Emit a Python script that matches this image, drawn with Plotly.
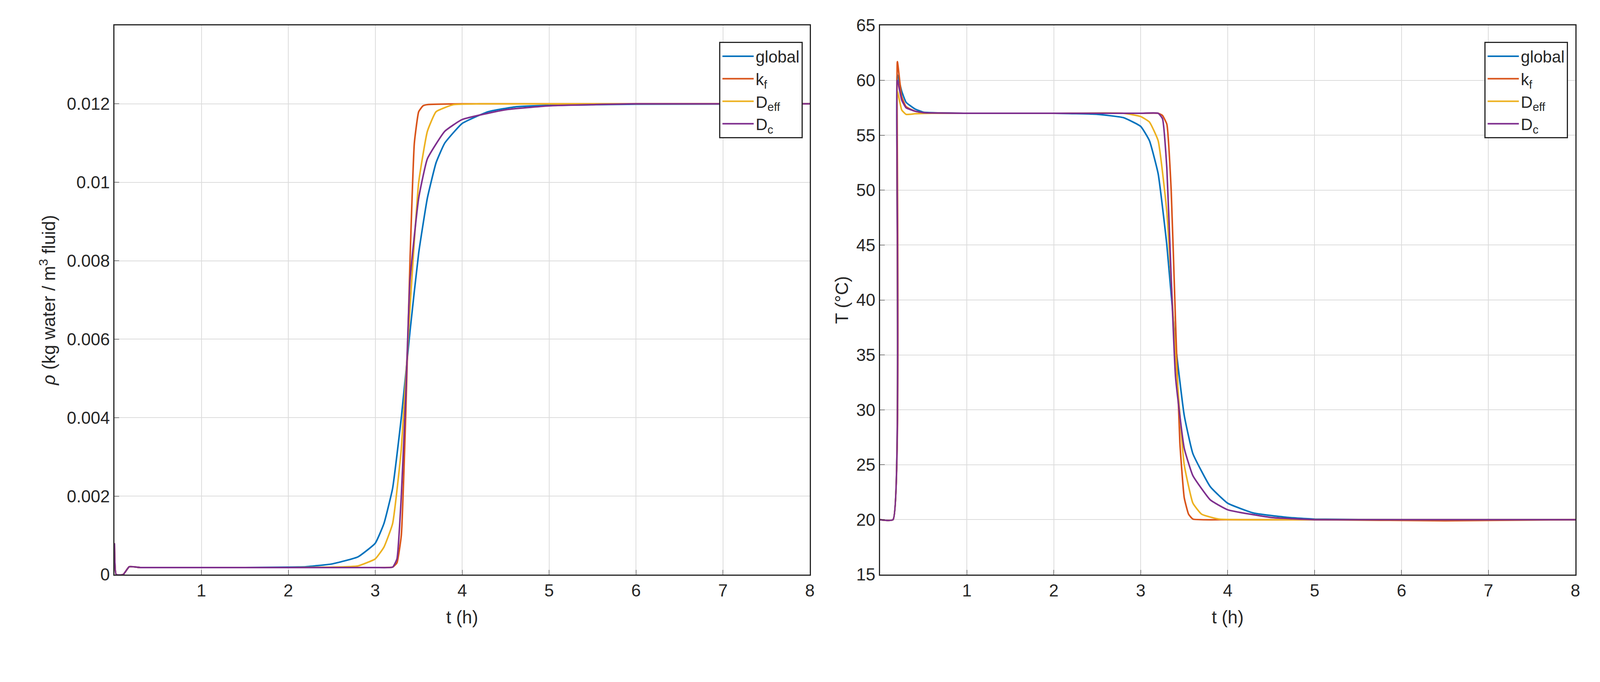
import plotly.graph_objects as go
from plotly.subplots import make_subplots

# density panel
t_rho_global = [0, 0.02, 0.1, 0.17, 0.3, 1.0, 1.5, 2.0, 2.2, 2.5, 2.8, 3.0, 3.1, 3.2, 3.3, 3.4, 3.5, 3.6, 3.7, 3.8, 4.0, 4.3, 4.6, 5.0, 6.0, 8.0]
rho_global = [0.0008, 0.0, 0.0, 0.0002, 0.00018, 0.00018, 0.00018, 0.00019, 0.0002, 0.00027, 0.00045, 0.0008, 0.0013, 0.0022, 0.0040, 0.0062, 0.0082, 0.0096, 0.0105, 0.0110, 0.0115, 0.0118, 0.01192, 0.01196, 0.01199, 0.0120]
t_rho_kf = [0, 0.02, 0.1, 0.17, 0.3, 1.0, 2.0, 3.0, 3.2, 3.25, 3.3, 3.35, 3.4, 3.45, 3.5, 3.55, 3.6, 4.0, 5.0, 8.0]
rho_kf = [0.0008, 0.0, 0.0, 0.0002, 0.00018, 0.00018, 0.00018, 0.00018, 0.00019, 0.0003, 0.001, 0.004, 0.008, 0.011, 0.0118, 0.01195, 0.01198, 0.0120, 0.0120, 0.0120]
t_rho_deff = [0, 0.02, 0.1, 0.17, 0.3, 1.0, 2.0, 2.5, 2.8, 3.0, 3.1, 3.2, 3.3, 3.4, 3.5, 3.6, 3.7, 3.9, 4.2, 5.0, 8.0]
rho_deff = [0.0008, 0.0, 0.0, 0.0002, 0.00018, 0.00018, 0.00018, 0.00019, 0.00022, 0.0004, 0.0007, 0.0013, 0.0032, 0.0068, 0.0100, 0.0113, 0.0118, 0.01198, 0.0120, 0.0120, 0.0120]
t_rho_dc = [0, 0.02, 0.1, 0.17, 0.3, 1.0, 2.0, 3.0, 3.2, 3.25, 3.3, 3.35, 3.4, 3.5, 3.6, 3.8, 4.0, 4.5, 5.0, 6.0, 8.0]
rho_dc = [0.0008, 0.0, 0.0, 0.0002, 0.00018, 0.00018, 0.00018, 0.00018, 0.00019, 0.0004, 0.002, 0.0045, 0.0075, 0.0096, 0.0106, 0.0113, 0.0116, 0.01185, 0.01195, 0.0120, 0.0120]

# temperature panel
t_T_global = [0, 0.15, 0.2, 0.25, 0.3, 0.4, 0.5, 1.0, 1.5, 2.0, 2.5, 2.8, 3.0, 3.1, 3.2, 3.3, 3.4, 3.5, 3.6, 3.8, 4.0, 4.3, 4.7, 5.0, 6.0, 8.0]
T_global = [20, 20, 60.5, 59.0, 58.0, 57.4, 57.1, 57.0, 57.0, 57.0, 56.9, 56.6, 55.8, 54.5, 51.5, 45, 36, 29.5, 26, 23, 21.5, 20.6, 20.2, 20.05, 20.0, 20]
t_T_kf = [0, 0.15, 0.2, 0.25, 0.3, 0.4, 0.5, 1.0, 2.0, 3.0, 3.2, 3.25, 3.3, 3.35, 3.4, 3.45, 3.5, 3.55, 3.6, 4.0, 5.0, 6.5, 8.0]
T_kf = [20, 20, 61.7, 58.5, 57.6, 57.2, 57.05, 57.0, 57.0, 57.0, 57.0, 56.8, 56.0, 50, 38, 27, 22, 20.5, 20.05, 20.0, 20.0, 19.9, 20]
t_T_deff = [0, 0.15, 0.2, 0.25, 0.3, 0.4, 0.6, 1.0, 2.0, 2.8, 3.0, 3.1, 3.2, 3.3, 3.4, 3.5, 3.6, 3.7, 3.9, 5.0, 8.0]
T_deff = [20, 20, 59.0, 57.3, 56.9, 56.95, 57.0, 57.0, 57.0, 57.0, 56.7, 56.2, 54.5, 48, 35, 25, 21.5, 20.5, 20.05, 20.0, 20]
t_T_dc = [0, 0.15, 0.2, 0.25, 0.3, 0.4, 0.5, 1.0, 2.0, 3.0, 3.2, 3.25, 3.3, 3.35, 3.4, 3.5, 3.6, 3.8, 4.0, 4.5, 5.0, 6.0, 8.0]
T_dc = [20, 20, 60.0, 58.2, 57.5, 57.2, 57.05, 57.0, 57.0, 57.0, 57.0, 56.5, 52, 42, 33, 26.5, 24, 21.8, 20.9, 20.2, 20.0, 20.0, 20]

names = ['global', 'k<sub>f</sub>', 'D<sub>eff</sub>', 'D<sub>c</sub>']
colors = ['#0072BD', '#D95319', '#EDB120', '#7E2F8E']

fig = make_subplots(rows=1, cols=2, horizontal_spacing=0.048)
left = [(t_rho_global, rho_global), (t_rho_kf, rho_kf), (t_rho_deff, rho_deff), (t_rho_dc, rho_dc)]
right = [(t_T_global, T_global), (t_T_kf, T_kf), (t_T_deff, T_deff), (t_T_dc, T_dc)]
for i, (x, y) in enumerate(left):
    fig.add_trace(go.Scatter(x=x, y=y, name=names[i], mode='lines',
                             line=dict(color=colors[i], width=4, shape='spline', smoothing=0.4)), 1, 1)
for i, (x, y) in enumerate(right):
    fig.add_trace(go.Scatter(x=x, y=y, name=names[i], mode='lines', legend='legend2',
                             line=dict(color=colors[i], width=4, shape='spline', smoothing=0.4)), 1, 2)

tc = '#262626'
ax = dict(showline=True, linecolor=tc, linewidth=3, mirror=True, showgrid=True, gridcolor='#dcdcdc', gridwidth=2,
          ticks='inside', ticklen=12, tickcolor=tc, zeroline=False, tickfont=dict(size=44, color=tc))
fig.update_xaxes(range=[0, 8], tickvals=[1, 2, 3, 4, 5, 6, 7, 8],
                 title=dict(text='t (h)', font=dict(size=46, color=tc), standoff=30), **ax)
fig.update_yaxes(range=[0, 0.014], tickvals=[0, 0.002, 0.004, 0.006, 0.008, 0.01, 0.012],
                 ticktext=['0', '0.002', '0.004', '0.006', '0.008', '0.01', '0.012'],
                 title=dict(text='<i>ρ</i> (kg water / m<sup>3</sup> fluid)', font=dict(size=46, color=tc)),
                 row=1, col=1, **ax)
fig.update_yaxes(range=[15, 65], dtick=5, title=dict(text='T (°C)', font=dict(size=46, color=tc), standoff=6),
                 row=1, col=2, **ax)

leg = dict(bgcolor='white', bordercolor=tc, borderwidth=3, font=dict(size=42, color=tc),
           xanchor='right', yanchor='top', tracegroupgap=0, itemwidth=80)
fig.update_layout(
    width=4070, height=1678, plot_bgcolor='white', paper_bgcolor='white',
    font=dict(family='Liberation Sans, Arial, sans-serif'),
    margin=dict(l=285, r=45, t=57, b=215),
    legend=dict(x=0.476 * 0.99, y=0.97, **leg),
    legend2=dict(x=0.995, y=0.97, **leg),
)
fig.write_html("out.html")
